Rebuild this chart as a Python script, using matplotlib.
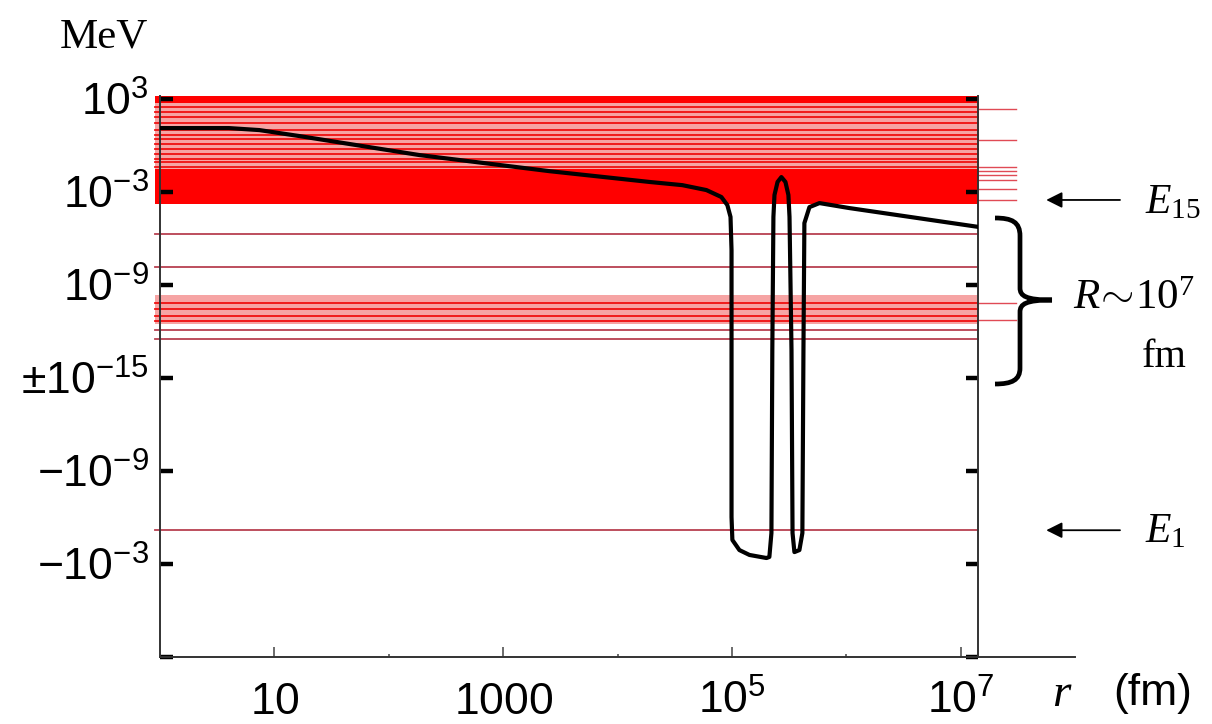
import numpy as np
import matplotlib
matplotlib.use('Agg')
import matplotlib.pyplot as plt
from matplotlib.path import Path
from matplotlib.patches import PathPatch

plt.rcParams['mathtext.fontset'] = 'custom'
plt.rcParams['mathtext.rm'] = 'Liberation Serif'
plt.rcParams['mathtext.it'] = 'Liberation Serif:italic'
plt.rcParams['mathtext.sf'] = 'Liberation Sans'

# potential curve (r in fm, E in MeV)
r_curve = [1.0, 4.0, 7.4, 16.6, 185, 2535, 1.9e4, 3.68e4, 5.97e4, 8.07e4, 9.1e4, 9.7e4,
           9.9e4, 9.9e4, 1.007e5, 1.16e5, 1.42e5, 2.0e5, 2.12e5, 2.21e5, 2.25e5, 2.30e5,
           2.35e5, 2.50e5, 2.70e5, 2.93e5, 3.11e5, 3.18e5, 3.31e5, 3.38e5, 3.51e5, 3.88e5,
           4.12e5, 4.21e5, 4.29e5, 4.75e5, 5.81e5, 1.06e6, 1.46e7]
E_curve = [13.5, 13.5, 10, 4.1, 0.245, 0.0224, 4.5e-3, 2.8e-3, 1.35e-3, 4.8e-4, 1.45e-4, 2.5e-5,
           1.8e-7, -9.3e-7, -2.8e-5, -1.26e-4, -2.6e-4, -4.1e-4, -3.5e-4, -1e-5, 6.5e-14, 2.5e-5,
           6.5e-4, 4.5e-3, 9.3e-3, 4.5e-3, 6.5e-4, 2.5e-5, 6.5e-14, -1e-5, -1.7e-4, -1.26e-4,
           -1e-5, 6.5e-14, 1e-5, 1.07e-4, 1.95e-4, 9.3e-5, 5.5e-6]

# energy levels (MeV)
solid_bands = [(600, 1585), (1.7e-4, 0.030)]
pink_bands = [(0.030, 600), (2.95e-12, 2.45e-10)]
band_levels = [290, 138, 66, 27, 9.5, 4.6, 2.5, 1.2, 0.58, 0.28, 0.13, 0.085, 0.041,
               6.5e-11, 2.7e-11, 9.5e-12, 4.6e-12]
single_levels = [2.0e-6, 1.55e-8, 1.2e-12, 3.2e-13, -6.6e-6]
right_levels = [214, 2.2, 0.041, 0.022, 0.0123, 5.9e-3, 1.6e-3, 3.1e-4, 6.5e-11, 5.2e-12]
E15 = 3.1e-4
E1 = -6.6e-6

yticks = [1e3, 1e-3, 1e-9, 0, -1e-9, -1e-3, -1e3]
ylabels = [r'$\mathsf{10^{3}}$', r'$\mathsf{10^{-3}}$', r'$\mathsf{10^{-9}}$',
           r'$\mathsf{\pm10^{-15}}$', r'$\mathsf{-10^{-9}}$', r'$\mathsf{-10^{-3}}$', '']
xticks = [10, 1e3, 1e5, 1e7]
xlabels = [r'$\mathsf{10}$', r'$\mathsf{1000}$', r'$\mathsf{10^{5}}$', r'$\mathsf{10^{7}}$']
xminor = [100, 1e4, 1e6]


def fwd(e):
    e = np.asarray(e, float)
    with np.errstate(divide='ignore', invalid='ignore'):
        m = np.log10(np.abs(e)) + 15
    m = np.where(np.isfinite(m), np.clip(m, 0, None), 0)
    return np.sign(e) * m


def inv(t):
    t = np.asarray(t, float)
    return np.sign(t) * 10 ** (np.abs(t) - 15)


W, H = 1212, 724
def fp(x, y):
    return (x / W, 1 - y / H)


fig = plt.figure(figsize=(W / 100, H / 100), dpi=100)
ax = fig.add_axes([160 / W, 1 - 657 / H, 818 / W, 561 / H])
ax.set_xscale('log')
ax.set_yscale('function', functions=(fwd, inv))
ax.set_xlim(1, 10 ** 7.15)
ax.set_ylim(-1e3, 10 ** 3.2)

for lo, hi in pink_bands:
    ax.axhspan(lo, hi, xmin=-0.006, xmax=1, color='#f6a4a4', lw=0, clip_on=False, zorder=1)
for lo, hi in solid_bands:
    ax.axhspan(lo, hi, xmin=-0.006, xmax=1, color='#ff0000', lw=0, clip_on=False, zorder=1)
for e in band_levels:
    ax.axhline(e, xmin=-0.006, xmax=1, color='#f01010', lw=1.3, clip_on=False, zorder=2)
for e in single_levels:
    ax.axhline(e, xmin=-0.006, xmax=1, color='#b84050', lw=1.3, clip_on=False, zorder=2)
for e in right_levels:
    ax.axhline(e, xmin=1, xmax=1.047, color='#e04a55', lw=1.0, clip_on=False, zorder=2)

ax.plot(r_curve, E_curve, color='black', lw=3.0, zorder=5, solid_joinstyle='round')

ax.spines['top'].set_visible(False)
for s in ['left', 'right', 'bottom']:
    ax.spines[s].set_linewidth(1.4)
    ax.spines[s].set_color('#333333')
ax.plot([1, 1.1186], [0, 0], transform=ax.transAxes, color='#333333', lw=1.4, clip_on=False)

ax.set_yticks(yticks)
ax.set_yticklabels(ylabels)
ax.set_xticks(xticks)
ax.set_xticklabels(xlabels)
ax.set_xticks(xminor, minor=True)
ax.set_xticklabels([], minor=True)
ax.tick_params(axis='y', which='major', direction='in', length=9, width=3.2, color='black',
               left=True, right=True, labelsize=32, pad=8)
ax.tick_params(axis='x', which='major', direction='in', length=7, width=1.1, color='#444444',
               labelsize=32, pad=41)
ax.tick_params(axis='x', which='minor', direction='in', length=2.5, width=1.1, color='#444444')
for lab in ax.get_xticklabels():
    lab.set_va('baseline')

fig.text(*fp(60, 47), 'MeV', fontfamily='Liberation Serif', fontsize=31, ha='left', va='baseline')
fig.text(*fp(1062, 706), r'$r$', fontsize=34, ha='center', va='baseline')
fig.text(*fp(1113, 705), '(fm)', fontfamily='Liberation Sans', fontsize=32, ha='left', va='baseline')

fig.text(*fp(1145, 213), r'$E_{15}$', fontsize=30, ha='left', va='baseline')
fig.text(*fp(1145, 542), r'$E_{1}$', fontsize=30, ha='left', va='baseline')
fig.text(*fp(1073, 309), r'$R\!\sim\!10^{7}$', fontsize=31, ha='left', va='baseline')
fig.text(*fp(1142, 367), 'fm', fontfamily='Liberation Serif', fontsize=29, ha='left', va='baseline')

for e in [E15, E1]:
    ax.annotate('', xy=(1.08, e), xytext=(1.177, e), xycoords=('axes fraction', 'data'),
                arrowprops=dict(arrowstyle='-|>', color='black', lw=1.3, mutation_scale=24),
                annotation_clip=False)

# curly bracket
pts = [(995, 218), (1012, 218), (1020, 222), (1020, 236), (1020, 288),
       (1020, 296), (1026, 300), (1052, 300),
       (1026, 300), (1020, 304), (1020, 312), (1020, 368),
       (1020, 380), (1012, 384), (995, 384)]
codes = [Path.MOVETO, Path.CURVE4, Path.CURVE4, Path.CURVE4, Path.LINETO,
         Path.CURVE4, Path.CURVE4, Path.CURVE4,
         Path.CURVE4, Path.CURVE4, Path.CURVE4, Path.LINETO,
         Path.CURVE4, Path.CURVE4, Path.CURVE4]
brace = Path([fp(x, y) for x, y in pts], codes)
fig.add_artist(PathPatch(brace, transform=fig.transFigure, fill=False, lw=3.4, ec='black',
                         capstyle='butt'))

fig.savefig('out.png', dpi=100)
